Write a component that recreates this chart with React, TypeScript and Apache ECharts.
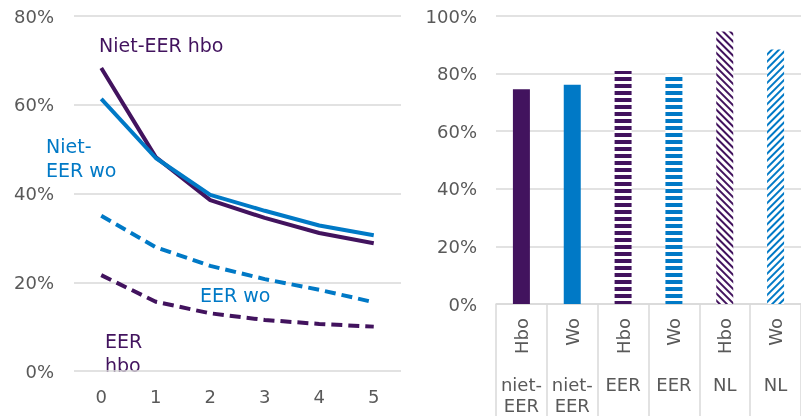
import React, { useEffect, useRef } from "react";
import * as echarts from "echarts";

const years = ["0", "1", "2", "3", "4", "5"];
const nietEerHbo = [68.3, 48.2, 38.5, 34.5, 31.1, 28.8];
const nietEerWo = [61.3, 48.0, 39.7, 36.1, 32.8, 30.6];
const eerWo = [35.0, 27.9, 23.7, 20.7, 18.3, 15.5];
const eerHbo = [21.6, 15.6, 13.0, 11.5, 10.6, 10.0];
const leftTicks = [0, 20, 40, 60, 80];

const barLevels = ["Hbo", "Wo", "Hbo", "Wo", "Hbo", "Wo"];
const barGroups = ["niet-\nEER", "niet-\nEER", "EER", "EER", "NL", "NL"];
const barValues = [74.6, 76.1, 80.9, 79.9, 94.6, 88.4];

const PURPLE = "#42135E";
const BLUE = "#0079C6";
const GRAY = "#595959";
const GRID = "#D9D9D9";
const FONT = "DejaVu Sans";

export default function App() {
  const ref = useRef<HTMLDivElement>(null);
  useEffect(() => {
    if (!ref.current) return;
    const chart = echarts.init(ref.current, undefined, { renderer: "svg" });
    const stripeH = (c: string) => ({
      symbol: "rect",
      symbolSize: 1,
      dashArrayX: [1, 0],
      dashArrayY: [3.5, 2.5],
      rotation: 0,
      color: c,
      backgroundColor: "#ffffff",
    });
    const stripeD = (c: string, rot: number) => ({
      symbol: "rect",
      symbolSize: 1,
      dashArrayX: [1, 0],
      dashArrayY: [1.3, 2.6],
      rotation: rot,
      color: c,
      backgroundColor: "#ffffff",
    });
    const barStyles = [
      { color: PURPLE },
      { color: BLUE },
      { color: "#ffffff", decal: stripeH(PURPLE) },
      { color: "#ffffff", decal: stripeH(BLUE) },
      { color: "#ffffff", decal: stripeD(PURPLE, Math.PI / 4) },
      { color: "#ffffff", decal: stripeD(BLUE, -Math.PI / 4) },
    ];
    const labelText = (text: string, x: number, y: number, color: string) => ({
      type: "text",
      left: x,
      top: y,
      style: {
        text,
        fill: color,
        font: `19px ${FONT}`,
        lineHeight: 24,
      },
    });
    chart.setOption({
      animation: false,
      textStyle: { fontFamily: FONT },
      grid: [
        { left: 74, top: 16, width: 327, height: 355 },
        { left: 496, top: 16, width: 310, height: 290 },
      ],
      xAxis: [
        {
          type: "category",
          gridIndex: 0,
          data: years,
          boundaryGap: true,
          axisLine: { show: false },
          axisTick: { show: false },
          axisLabel: { color: GRAY, fontSize: 18, margin: 16, fontFamily: FONT },
        },
        {
          type: "category",
          gridIndex: 1,
          position: "bottom",
          data: barLevels,
          axisLine: { show: true, lineStyle: { color: GRID, width: 1.5 } },
          axisTick: { show: true, interval: 0, length: 112, lineStyle: { color: GRID, width: 1.5 } },
          axisLabel: { color: GRAY, fontSize: 18, rotate: 90, margin: 14, interval: 0, fontFamily: FONT },
        },
        {
          type: "category",
          gridIndex: 1,
          position: "bottom",
          offset: 0,
          data: barGroups,
          axisLine: { show: false },
          axisTick: { show: false },
          axisLabel: {
            color: GRAY,
            fontSize: 18,
            margin: 70,
            interval: 0,
            lineHeight: 21,
            fontFamily: FONT,
          },
        },
      ],
      yAxis: [
        {
          type: "value",
          gridIndex: 0,
          min: leftTicks[0],
          max: leftTicks[leftTicks.length - 1],
          interval: 20,
          axisLine: { show: false },
          axisTick: { show: false },
          splitLine: { lineStyle: { color: GRID, width: 1.5 } },
          axisLabel: { color: GRAY, fontSize: 18, margin: 20, formatter: "{value}%", fontFamily: FONT },
        },
        {
          type: "value",
          gridIndex: 1,
          min: 0,
          max: 100,
          interval: 20,
          axisLine: { show: false },
          axisTick: { show: false },
          splitLine: { lineStyle: { color: GRID, width: 1.5 } },
          axisLabel: { color: GRAY, fontSize: 18, margin: 19, formatter: "{value}%", fontFamily: FONT },
        },
      ],
      series: [
        {
          type: "line",
          xAxisIndex: 0,
          yAxisIndex: 0,
          data: nietEerHbo,
          showSymbol: false,
          symbol: "none",
          lineStyle: { color: PURPLE, width: 4 },
          z: 3,
        },
        {
          type: "line",
          xAxisIndex: 0,
          yAxisIndex: 0,
          data: nietEerWo,
          showSymbol: false,
          symbol: "none",
          lineStyle: { color: BLUE, width: 4 },
          z: 4,
        },
        {
          type: "line",
          xAxisIndex: 0,
          yAxisIndex: 0,
          data: eerWo,
          showSymbol: false,
          symbol: "none",
          lineStyle: { color: BLUE, width: 4, type: [11, 6] },
        },
        {
          type: "line",
          xAxisIndex: 0,
          yAxisIndex: 0,
          data: eerHbo,
          showSymbol: false,
          symbol: "none",
          lineStyle: { color: PURPLE, width: 4, type: [11, 6] },
        },
        {
          type: "bar",
          xAxisIndex: 1,
          yAxisIndex: 1,
          barWidth: 17,
          data: barValues.map((v, i) => ({ value: v, itemStyle: barStyles[i] })),
        },
      ],
      graphic: [
        labelText("Niet-EER hbo", 99, 33, PURPLE),
        labelText("Niet-\nEER wo", 46, 134, BLUE),
        labelText("EER wo", 200, 283, BLUE),
        labelText("EER\nhbo", 105, 329, PURPLE),
      ],
    });
    return () => chart.dispose();
  }, []);
  return (
    <div
      ref={ref}
      style={{ position: "fixed", left: 0, top: 0, width: 801, height: 416 }}
    />
  );
}
